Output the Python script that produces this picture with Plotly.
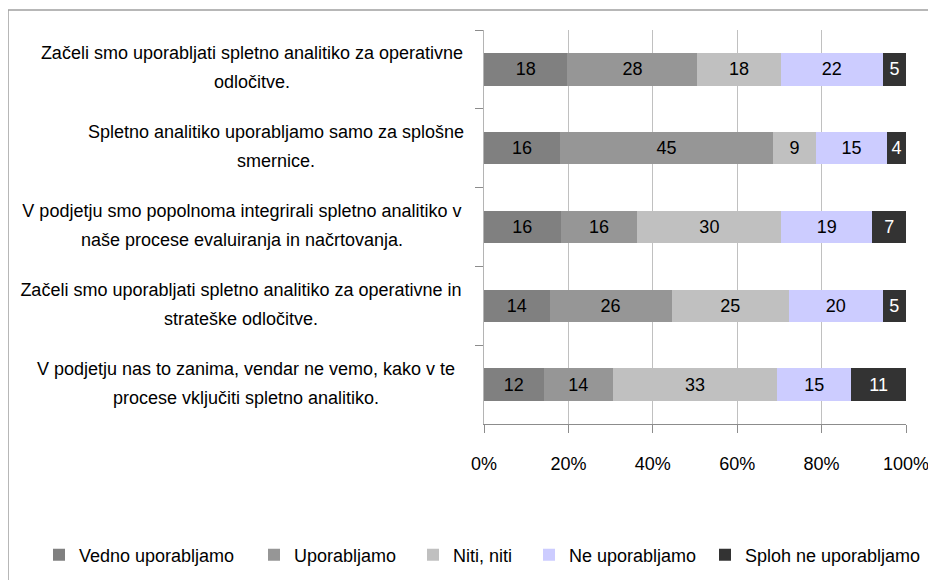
import plotly.graph_objects as go

# categories, top to bottom (the line break is where the original label wraps)
categories = [
    "Začeli smo uporabljati spletno analitiko za operativne<br>odločitve.",
    "Spletno analitiko uporabljamo samo za splošne<br>smernice.",
    "V podjetju smo popolnoma integrirali spletno analitiko v<br>naše procese evaluiranja in načrtovanja.",
    "Začeli smo uporabljati spletno analitiko za operativne in<br>strateške odločitve.",
    "V podjetju nas to zanima, vendar ne vemo, kako v te<br>procese vključiti spletno analitiko.",
]

series_names = ["Vedno uporabljamo", "Uporabljamo", "Niti, niti", "Ne uporabljamo", "Sploh ne uporabljamo"]

vedno = [18, 16, 16, 14, 12]
uporabljamo = [28, 45, 16, 26, 14]
niti_niti = [18, 9, 30, 25, 33]
ne_uporabljamo = [22, 15, 19, 20, 15]
sploh_ne = [5, 4, 7, 5, 11]

series_values = [vedno, uporabljamo, niti_niti, ne_uporabljamo, sploh_ne]
series_colors = ["#808080", "#969696", "#c0c0c0", "#ccccff", "#333333"]
label_colors = ["black", "black", "black", "black", "white"]

FONT = "Liberation Sans, Arial, sans-serif"
FS = 18

# the page body has an 8px margin, so figure pixels = page pixels - 8
OFF = 8
W, H = 936 - OFF, 580 - OFF
PLOT_L, PLOT_R, PLOT_T, PLOT_B = 484 - OFF, 906 - OFF, 30 - OFF, 424 - OFF
pw, ph = PLOT_R - PLOT_L, PLOT_B - PLOT_T


def px_x(x):
    # page x -> paper coordinate
    return (x - OFF - PLOT_L) / pw


def px_y(y):
    # page y -> paper coordinate
    return (PLOT_B - (y - OFF)) / ph


fig = go.Figure()

legend_ids = ['legend', 'legend2', 'legend3', 'legend4', 'legend5']
for name, vals, color, tcol, lg in zip(series_names, series_values, series_colors, label_colors, legend_ids):
    fig.add_trace(go.Bar(
        y=categories,
        x=vals,
        name=name,
        orientation='h',
        marker=dict(color=color, line=dict(width=0)),
        text=vals,
        textposition='inside',
        insidetextanchor='middle',
        textangle=0,
        textfont=dict(family=FONT, size=FS, color=tcol),
        legend=lg,
        showlegend=True,
        hoverinfo='skip'))

# category labels: each wrapped line centered inside a block right-aligned to the axis
block_widths = [450, 402, 470, 472, 462]
annotations = []
for cat, bw in zip(categories, block_widths):
    first, second = cat.split("<br>")
    for line, shift in ((first, 16), (second, -13)):
        annotations.append(dict(
            x=px_x(479), xref='paper', xanchor='right',
            y=cat, yref='y', yanchor='middle', yshift=shift,
            text=line, showarrow=False, width=bw, align='center',
            font=dict(family=FONT, size=FS, color='black')))

# one legend box per entry so the entries sit where the original puts them
legend_text_x = [78, 293, 452, 568, 744]
legends = {}
for lg, tx in zip(legend_ids, legend_text_x):
    legends[lg] = dict(
        orientation='h',
        x=px_x(tx - 39), xanchor='left',
        y=px_y(555), yanchor='middle',
        font=dict(family=FONT, size=FS, color='black'),
        bgcolor='rgba(0,0,0,0)')

fig.update_layout(
    width=W, height=H,
    showlegend=True,
    barmode='stack',
    barnorm='percent',
    bargap=0.59,
    paper_bgcolor='white',
    plot_bgcolor='white',
    margin=dict(l=PLOT_L, r=W - PLOT_R, t=PLOT_T, b=H - PLOT_B, pad=0, autoexpand=False),
    font=dict(family=FONT, size=FS, color='black'),
    annotations=annotations,
    shapes=[dict(
        type='rect', xref='paper', yref='paper',
        x0=px_x(8), x1=px_x(990), y0=px_y(640), y1=px_y(10),
        line=dict(color='#a0a0a0', width=1.5), fillcolor='rgba(0,0,0,0)', layer='below')],
    **legends,
)

fig.update_xaxes(
    range=[0, 100],
    dtick=20,
    ticksuffix='%',
    showgrid=True, gridcolor='#c0c0c0', gridwidth=1,
    showline=True, linecolor='#8c8c8c', linewidth=1,
    ticks='outside', ticklen=8, tickcolor='#8c8c8c',
    ticklabelstandoff=15,
    zeroline=False,
    tickfont=dict(family=FONT, size=FS, color='black'),
    fixedrange=True)

fig.update_yaxes(
    autorange='reversed',
    showticklabels=False,
    showgrid=False,
    showline=True, linecolor='#b4b4b4', linewidth=1,
    ticks='outside', ticklen=8, tickcolor='#8c8c8c',
    tickson='boundaries',
    fixedrange=True)

fig.write_html("out.html")
